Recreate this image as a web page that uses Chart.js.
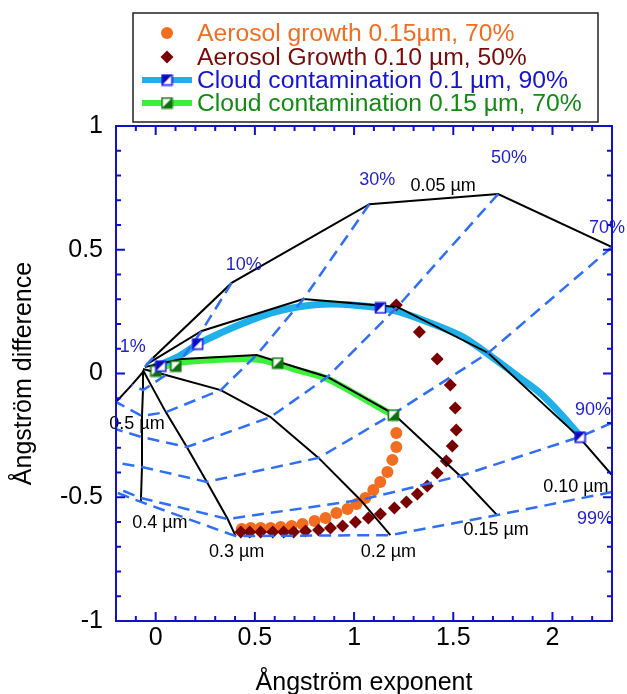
<!DOCTYPE html>
<html>
<head>
<meta charset="utf-8">
<script src="https://cdn.jsdelivr.net/npm/chart.js@4.4.0/dist/chart.umd.min.js"></script>
<style>
  html, body { margin: 0; padding: 0; background: #fff; }
</style>
</head>
<body>
<canvas id="myChart" width="627" height="694"></canvas>
<script>
// tick labels
var xTicks = [0, 0.5, 1, 1.5, 2];
var yTicks = [-1, -0.5, 0, 0.5, 1];

// grid: fine mode radius curves, points at fine mode fraction 1,10,30,50,70,90,99 %
var r005x = [-0.014, 0.383, 1.077, 1.726, 2.300, null, null];
var r005y = [0.063, 0.366, 0.684, 0.725, 0.511, null, null];
var r010x = [-0.044, 0.232, 0.745, 1.218, 1.676, 2.134, null];
var r010y = [0.038, 0.172, 0.301, 0.269, 0.083, -0.257, null];
var r015x = [-0.054, 0.132, 0.509, 0.866, 1.198, 1.535, 1.721];
var r015y = [0.026, 0.059, 0.075, -0.014, -0.163, -0.414, -0.572];
var r02x = [-0.064, 0.051, 0.328, 0.579, 0.821, 1.032, 1.183];
var r02y = [0.018, -0.006, -0.067, -0.176, -0.341, -0.511, -0.653];
var r03x = [-0.064, -0.024, 0.051, 0.157, 0.258, 0.363, 0.403];
var r03y = [0.014, -0.046, -0.156, -0.297, -0.438, -0.588, -0.657];
var r04x = [-0.064, -0.064, -0.069, -0.069, -0.069, -0.074, -0.074];
var r04y = [0.010, -0.067, -0.172, -0.257, -0.378, -0.503, -0.519];
var r05x = [-0.064, -0.12, -0.2, null, null, null, null];
var r05y = [0.006, -0.046, -0.115, null, null, null, null];

// where lines leave the frame
var r010tail = {x: 2.3, y: -0.41};
var rightEdgeY = [null, null, null, null, null, -0.200, -0.479];
var leftEdgeY = [null, null, null, -0.225, -0.36, -0.462, -0.48];

// aerosol growth
var growth015x = [0.434, 0.479, 0.529, 0.579, 0.630, 0.685, 0.740, 0.801, 0.856, 0.911, 0.967, 1.012, 1.057, 1.097, 1.132, 1.168, 1.193, 1.213, 1.213];
var growth015y = [-0.628, -0.624, -0.624, -0.624, -0.620, -0.616, -0.608, -0.596, -0.584, -0.564, -0.547, -0.527, -0.503, -0.471, -0.438, -0.398, -0.349, -0.297, -0.240];
var growth010x = [1.213, 1.329, 1.419, 1.485, 1.510, 1.515, 1.495, 1.465, 1.419, 1.369, 1.319, 1.264, 1.203, 1.133, 1.072, 1.007, 0.942, 0.881, 0.821, 0.755, 0.695, 0.645, 0.590, 0.529, 0.474, 0.429];
var growth010y = [0.277, 0.168, 0.059, -0.046, -0.139, -0.228, -0.293, -0.354, -0.402, -0.455, -0.487, -0.519, -0.543, -0.568, -0.584, -0.600, -0.616, -0.624, -0.632, -0.636, -0.640, -0.640, -0.640, -0.640, -0.640, -0.640];

// cloud contamination
var cloud01x = [-0.009, 0.112, 0.212, 0.328, 0.444, 0.579, 0.715, 0.881, 1.047, 1.133, 1.248, 1.384, 1.550, 1.701, 1.837, 1.938, 2.038, 2.139];
var cloud01y = [0.026, 0.067, 0.119, 0.164, 0.204, 0.244, 0.269, 0.281, 0.273, 0.265, 0.244, 0.204, 0.147, 0.063, -0.018, -0.079, -0.160, -0.253];
var cloud01mx = [0.026, 0.212, 1.133, 2.139];
var cloud01my = [0.030, 0.119, 0.265, -0.257];
var cloud015x = [0.011, 0.051, 0.142, 0.278, 0.444, 0.529, 0.615, 0.715, 0.866, 1.017, 1.148, 1.198];
var cloud015y = [0.018, 0.030, 0.046, 0.055, 0.059, 0.055, 0.038, 0.014, -0.022, -0.087, -0.147, -0.168];
var cloud015mx = [0.001, 0.102, 0.615, 1.198];
var cloud015my = [0.010, 0.030, 0.042, -0.168];

// grid labels
var radiusLabels = ["0.05 µm", "0.10 µm", "0.15 µm", "0.2 µm", "0.3 µm", "0.4 µm", "0.5 µm"];
var radiusLabelX = [1.449, 2.118, 1.716, 1.173, 0.408, 0.021, -0.094];
var radiusLabelY = [0.758, -0.459, -0.632, -0.721, -0.721, -0.604, -0.204];
var fractionLabels = ["1%", "10%", "30%", "50%", "70%", "90%", "99%"];
var fractionLabelX = [-0.115, 0.444, 1.117, 1.781, 2.275, 2.204, 2.214];
var fractionLabelY = [0.107, 0.438, 0.782, 0.871, 0.588, -0.147, -0.588];

var FONT = "'Liberation Sans', Arial, Helvetica, sans-serif";

function pts(xs, ys) {
  var out = [];
  for (var i = 0; i < xs.length; i++) {
    if (xs[i] !== null) out.push({x: xs[i], y: ys[i]});
  }
  return out;
}

function halfSquare(edge, fill, corner) {
  var s = 13;
  var c = document.createElement('canvas');
  c.width = s; c.height = s;
  var g = c.getContext('2d');
  g.fillStyle = '#fff';
  g.fillRect(1, 1, s - 2, s - 2);
  g.fillStyle = fill;
  g.beginPath();
  if (corner === 'tl') { g.moveTo(1, 1); g.lineTo(s - 1, 1); g.lineTo(1, s - 1); }
  else { g.moveTo(s - 1, 1); g.lineTo(s - 1, s - 1); g.lineTo(1, s - 1); }
  g.closePath();
  g.fill();
  g.strokeStyle = edge;
  g.lineWidth = 1.6;
  g.strokeRect(1.5, 1.5, s - 3, s - 3);
  return c;
}

var blueSq = halfSquare('#1c1ce0', '#0a0ab4', 'tl');
var greenSq = halfSquare('#107a10', '#0d6e0d', 'br');

var radiusX = [r005x, r010x, r015x, r02x, r03x, r04x, r05x];
var radiusY = [r005y, r010y, r015y, r02y, r03y, r04y, r05y];

var datasets = [];

// thick cloud curves (bottom)
datasets.push({ data: pts(cloud01x, cloud01y), borderColor: '#1fb0ea', borderWidth: 7, pointRadius: 0, tension: 0.3, order: 6 });
datasets.push({ data: pts(cloud015x, cloud015y), borderColor: '#3cf03c', borderWidth: 6.5, pointRadius: 0, tension: 0.3, order: 6 });

// aerosol growth points
datasets.push({ data: pts(growth015x, growth015y), showLine: false, pointStyle: 'circle', pointRadius: 6, backgroundColor: '#f26d1f', borderWidth: 0, order: 5 });
datasets.push({ data: pts(growth010x, growth010y), showLine: false, pointStyle: 'rectRot', pointRadius: 6.5, backgroundColor: '#7a0000', borderWidth: 0, order: 4 });

// black radius curves
for (var i = 0; i < radiusX.length; i++) {
  var d = pts(radiusX[i], radiusY[i]);
  if (i === 1) d.push(r010tail);
  datasets.push({ data: d, borderColor: '#000', borderWidth: 2, pointRadius: 0, tension: 0, order: 3 });
}

// dashed fraction curves
for (var j = 0; j < fractionLabels.length; j++) {
  var f = [];
  if (rightEdgeY[j] !== null) f.push({x: 2.3, y: rightEdgeY[j]});
  for (var k = 0; k < radiusX.length; k++) {
    if (radiusX[k][j] !== null) f.push({x: radiusX[k][j], y: radiusY[k][j]});
  }
  if (leftEdgeY[j] !== null) f.push({x: -0.2, y: leftEdgeY[j]});
  datasets.push({ data: f, borderColor: '#2f6ff5', borderWidth: 2.5, borderDash: [12, 7], pointRadius: 0, tension: 0, order: 2 });
}

// markers on the cloud curves
datasets.push({ data: pts(cloud01mx, cloud01my), showLine: false, pointStyle: blueSq, pointRadius: 6, order: 1 });
datasets.push({ data: pts(cloud015mx, cloud015my), showLine: false, pointStyle: greenSq, pointRadius: 6, order: 1 });

var framePlugin = {
  id: 'frame',
  afterDraw: function(chart) {
    var ctx = chart.ctx, a = chart.chartArea;
    var xs = chart.scales.x, ys = chart.scales.y;
    ctx.save();

    // annotations
    ctx.textAlign = 'center';
    ctx.textBaseline = 'middle';
    ctx.font = '18px ' + FONT;
    ctx.fillStyle = '#000';
    for (var i = 0; i < radiusLabels.length; i++) {
      ctx.fillText(radiusLabels[i], xs.getPixelForValue(radiusLabelX[i]), ys.getPixelForValue(radiusLabelY[i]));
    }
    ctx.fillStyle = '#1f1fd0';
    for (var j = 0; j < fractionLabels.length; j++) {
      ctx.fillText(fractionLabels[j], xs.getPixelForValue(fractionLabelX[j]), ys.getPixelForValue(fractionLabelY[j]));
    }

    // frame and inward ticks
    ctx.strokeStyle = '#1010d0';
    ctx.lineWidth = 2;
    ctx.strokeRect(a.left, a.top, a.right - a.left, a.bottom - a.top);
    ctx.beginPath();
    for (var t = -2; t <= 23; t++) {
      var px = xs.getPixelForValue(t / 10);
      var len = (t % 5 === 0) ? 9 : 5;
      ctx.moveTo(px, a.bottom); ctx.lineTo(px, a.bottom - len);
      ctx.moveTo(px, a.top); ctx.lineTo(px, a.top + len);
    }
    for (var u = -10; u <= 10; u++) {
      var py = ys.getPixelForValue(u / 10);
      var len2 = (u % 5 === 0) ? 9 : 5;
      ctx.moveTo(a.left, py); ctx.lineTo(a.left + len2, py);
      ctx.moveTo(a.right, py); ctx.lineTo(a.right - len2, py);
    }
    ctx.stroke();

    // legend box
    var L = 133, T = 13, R = 598, B = 122;
    ctx.fillStyle = '#fff';
    ctx.fillRect(L, T, R - L, B - T);
    ctx.strokeStyle = '#222';
    ctx.lineWidth = 1.5;
    ctx.strokeRect(L, T, R - L, B - T);

    var rows = [33, 57, 80, 103];
    var mx = 167;
    ctx.fillStyle = '#f26d1f';
    ctx.beginPath(); ctx.arc(mx, rows[0], 6, 0, Math.PI * 2); ctx.fill();
    ctx.fillStyle = '#7a0000';
    ctx.beginPath();
    ctx.moveTo(mx, rows[1] - 6.5); ctx.lineTo(mx + 6.5, rows[1]); ctx.lineTo(mx, rows[1] + 6.5); ctx.lineTo(mx - 6.5, rows[1]);
    ctx.closePath(); ctx.fill();
    ctx.lineWidth = 6;
    ctx.strokeStyle = '#1fb0ea';
    ctx.beginPath(); ctx.moveTo(142, rows[2]); ctx.lineTo(192, rows[2]); ctx.stroke();
    ctx.drawImage(blueSq, mx - 6.5, rows[2] - 6.5);
    ctx.strokeStyle = '#3cf03c';
    ctx.beginPath(); ctx.moveTo(142, rows[3]); ctx.lineTo(192, rows[3]); ctx.stroke();
    ctx.drawImage(greenSq, mx - 6.5, rows[3] - 6.5);

    ctx.font = '24.7px ' + FONT;
    ctx.textAlign = 'left';
    var texts = ["Aerosol growth 0.15µm, 70%", "Aerosol Growth 0.10 µm, 50%", "Cloud contamination 0.1 µm, 90%", "Cloud contamination 0.15 µm, 70%"];
    var colors = ['#f26d1f', '#7a0a0a', '#1414d2', '#138a13'];
    for (var r = 0; r < texts.length; r++) {
      ctx.fillStyle = colors[r];
      ctx.fillText(texts[r], 197, rows[r] + 1);
    }
    ctx.restore();
  }
};

function plainLabel(v) { return String(v); }

var ctx = document.getElementById("myChart").getContext('2d');
var myChart = new Chart(ctx, {
  type: 'line',
  data: { datasets: datasets },
  options: {
    responsive: false,
    animation: false,
    events: [],
    layout: { padding: { top: 126, right: 15, left: 0, bottom: 0 } },
    plugins: { legend: { display: false }, tooltip: { enabled: false } },
    scales: {
      x: {
        type: 'linear', min: -0.2, max: 2.3,
        grid: { display: false, drawTicks: false },
        border: { display: false },
        afterFit: function(s) { s.height = 73; },
        afterBuildTicks: function(s) { s.ticks = xTicks.map(function(v) { return {value: v}; }); },
        ticks: { padding: 2, color: '#000', font: { size: 25, family: FONT }, callback: plainLabel },
        title: { display: true, text: 'Ångström exponent', color: '#000', font: { size: 25, family: FONT, lineHeight: 0.9 }, padding: { top: 0, bottom: 0 } }
      },
      y: {
        type: 'linear', min: -1, max: 1,
        grid: { display: false, drawTicks: false },
        border: { display: false },
        afterFit: function(s) { s.width = 116; },
        afterBuildTicks: function(s) { s.ticks = yTicks.map(function(v) { return {value: v}; }); },
        ticks: { padding: 13, color: '#000', font: { size: 25, family: FONT }, callback: plainLabel },
        title: { display: true, text: 'Ångström difference', color: '#000', font: { size: 25, family: FONT, lineHeight: 1.2 }, padding: { top: 9 } }
      }
    }
  },
  plugins: [framePlugin]
});
</script>
</body>
</html>
